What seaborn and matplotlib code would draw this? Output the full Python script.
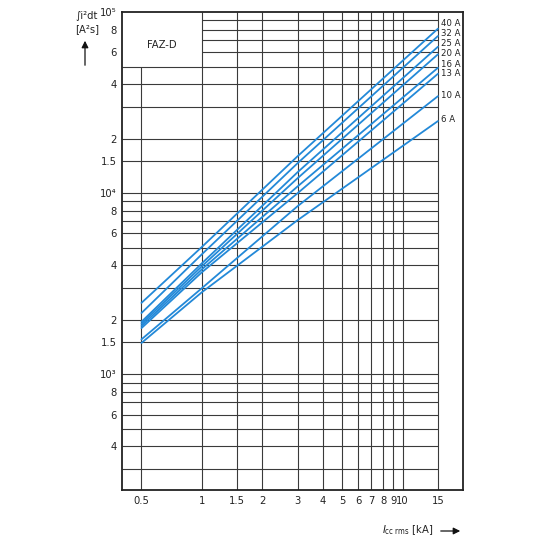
import matplotlib
matplotlib.use("Agg")
import matplotlib.pyplot as plt
import seaborn as sns
import pandas as pd

# let-through energy curves, FAZ-D
current_ka = [0.5, 1, 3, 15]
ratings = ["40 A", "32 A", "25 A", "20 A", "16 A", "13 A", "10 A", "6 A"]
i2t_40 = [2480, 5050, 16000, 80900]
i2t_32 = [2180, 4600, 14650, 73700]
i2t_25 = [1950, 4100, 13060, 64300]
i2t_20 = [1900, 3950, 12100, 58400]
i2t_16 = [1850, 3800, 10900, 49200]
i2t_13 = [1800, 3660, 10000, 45600]
i2t_10 = [1560, 2990, 8480, 34300]
i2t_6 = [1490, 2840, 7100, 25000]

x_ticks = [0.5, 1, 1.5, 2, 3, 4, 5, 6, 7, 8, 9, 10, 15]
x_ticklabels = ["0.5", "1", "1.5", "2", "3", "4", "5", "6", "7", "8", "9", "10", "15"]
y_ticks = [400, 600, 800, 1e3, 1500, 2e3, 4e3, 6e3, 8e3, 1e4, 1.5e4, 2e4, 4e4, 6e4, 8e4, 1e5]
y_ticklabels = ["4", "6", "8", "10³", "1.5", "2", "4", "6", "8", "10⁴", "1.5", "2", "4", "6", "8", "10⁵"]
y_grid = [300, 400, 500, 600, 700, 800, 900, 1e3, 1500, 2e3, 3e3, 4e3, 5e3, 6e3, 7e3, 8e3, 9e3,
          1e4, 1.5e4, 2e4, 3e4, 4e4, 5e4, 6e4, 7e4, 8e4, 9e4]

curves = [i2t_40, i2t_32, i2t_25, i2t_20, i2t_16, i2t_13, i2t_10, i2t_6]
df = pd.DataFrame({
    "I": current_ka * len(ratings),
    "i2t": [v for c in curves for v in c],
    "rating": [r for r in ratings for _ in current_ka],
})

sns.set_style("white")
plt.rcParams["font.family"] = ["DejaVu Sans"]
plt.rcParams["font.stretch"] = "condensed"

blue = "#2389d8"
grid_c = "#3a3a3a"
txt_c = "#222222"
xmin, xmax = 0.4, 20
ymin, ymax = 230, 1e5

fig = plt.figure(figsize=(5.4, 5.4), dpi=100)
ax = fig.add_axes([122 / 540, 50 / 540, 341 / 540, 478 / 540])
ax.set_xscale("log")
ax.set_yscale("log")

# grid: stops at 15 kA, with a blank box for the title in the top-left corner
for y in y_grid:
    ax.hlines(y, 1 if y > 5e4 else xmin, 15, color=grid_c, lw=0.8, zorder=1)
for x in x_ticks:
    ax.vlines(x, ymin, 5e4 if x == 0.5 else ymax, color=grid_c, lw=0.8, zorder=1)

sns.lineplot(data=df, x="I", y="i2t", hue="rating", palette=[blue] * len(ratings),
             legend=False, lw=1.3, ax=ax, zorder=3)

# rating labels just right of the line ends, nudged apart a little
nudge = [3.5, 1.5, 2, 0.5, 2.5, 0, 0.5, 1]
for r, c, dy in zip(ratings, curves, nudge):
    ax.annotate(r, (current_ka[-1], c[-1]), xytext=(2, dy), textcoords="offset points",
                fontsize=6.8, va="center", ha="left", color=txt_c)

ax.set_xlim(xmin, xmax)
ax.set_ylim(ymin, ymax)
ax.set_xticks(x_ticks)
ax.set_xticklabels(x_ticklabels)
ax.set_yticks(y_ticks)
ax.set_yticklabels(y_ticklabels)
ax.minorticks_off()
ax.tick_params(length=0, labelsize=8, colors=txt_c)
ax.tick_params(axis="x", pad=4)
ax.tick_params(axis="y", pad=4)
ax.set_xlabel("")
ax.set_ylabel("")
for s in ax.spines.values():
    s.set_linewidth(1.3)
    s.set_color(txt_c)

ax.text(0.63, 6.6e4, "FAZ-D", fontsize=8, ha="center", va="center", color=txt_c)

# axis captions with arrows
fig.text(87 / 540, 1 - 16 / 540, "∫i²dt", fontsize=8, ha="center", va="center", color=txt_c)
fig.text(87 / 540, 1 - 29 / 540, "[A²s]", fontsize=8, ha="center", va="center", color=txt_c)
fig.add_artist(matplotlib.patches.FancyArrowPatch(
    (85 / 540, 1 - 68 / 540), (85 / 540, 1 - 38 / 540), transform=fig.transFigure,
    arrowstyle="-|>", mutation_scale=10, lw=0.9, color="#111111"))
fig.text(433 / 540, 1 - 530 / 540, r"$I_{\rm cc\ rms}$ [kA]", fontsize=8, ha="right",
         va="center", color=txt_c)
fig.add_artist(matplotlib.patches.FancyArrowPatch(
    (438 / 540, 1 - 531 / 540), (463 / 540, 1 - 531 / 540), transform=fig.transFigure,
    arrowstyle="-|>", mutation_scale=10, lw=0.9, color="#111111"))

fig.savefig("out.png", dpi=100)
